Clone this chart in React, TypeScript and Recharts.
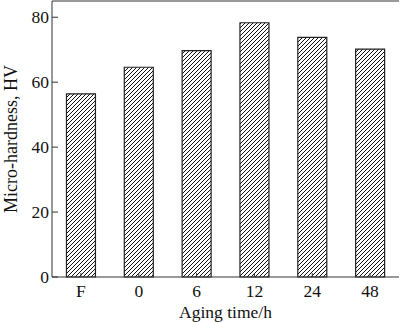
import React from 'react';
import { BarChart, Bar, XAxis, YAxis, ReferenceLine } from 'recharts';

const categories = ['F', '0', '6', '12', '24', '48'];
const hardness = [56.4, 64.6, 69.7, 78.3, 73.8, 70.2];
const yTicks = [0, 20, 40, 60, 80];
const yMax = 85;

const data = categories.map((c, i) => ({ name: c, hv: hardness[i] }));

const FONT = '"Liberation Serif", "DejaVu Serif", serif';
const INK = '#333';

const YTick = (props: any) => {
  const { x, y, payload } = props;
  return (
    <g>
      <line x1={x + 2} y1={y} x2={x + 8} y2={y} stroke={INK} strokeWidth={1} />
      <text x={x - 1} y={y} dy={6} textAnchor="end" fontFamily={FONT} fontSize={17.5} fill="#111">
        {payload.value}
      </text>
    </g>
  );
};

const XTick = (props: any) => {
  const { x, y, payload } = props;
  return (
    <g>
      <line x1={x} y1={y - 8} x2={x} y2={y - 12} stroke={INK} strokeWidth={1} />
      <text x={x} y={y} dy={12} textAnchor="middle" fontFamily={FONT} fontSize={17.5} fill="#111">
        {payload.value}
      </text>
    </g>
  );
};

export default function App() {
  return (
    <div style={{ position: 'absolute', left: 0, top: 0, background: '#fff' }}>
      <BarChart
        width={400}
        height={322}
        data={data}
        margin={{ top: 1, right: 1, left: 0, bottom: 0 }}
        barCategoryGap="25%"
      >
        <defs>
          <pattern id="hatch" patternUnits="userSpaceOnUse" width="4" height="4">
            <path d="M-1,1 l2,-2 M0,4 l4,-4 M3,5 l2,-2" stroke="#111" strokeWidth={1} />
          </pattern>
        </defs>
        <XAxis
          dataKey="name"
          height={45}
          tickLine={false}
          tickSize={0}
          tickMargin={8}
          axisLine={{ stroke: INK }}
          tick={<XTick />}
          interval={0}
          label={{
            value: 'Aging time/h',
            position: 'insideBottom',
            offset: 4,
            style: { fontFamily: FONT, fontSize: 17.5, fill: '#111' },
          }}
        />
        <YAxis
          domain={[0, yMax]}
          ticks={yTicks}
          width={52}
          tickLine={false}
          tickSize={0}
          tickMargin={2}
          axisLine={{ stroke: INK }}
          tick={<YTick />}
          label={{
            value: 'Micro-hardness, HV',
            angle: -90,
            position: 'insideLeft',
            offset: 11,
            style: { textAnchor: 'middle', fontFamily: FONT, fontSize: 18, fill: '#111' },
          }}
        />
        <YAxis
          yAxisId="right"
          orientation="right"
          domain={[0, yMax]}
          width={0}
          tick={false}
          tickLine={false}
          axisLine={{ stroke: INK }}
        />
        <ReferenceLine y={yMax} stroke={INK} strokeWidth={1} />
        <Bar dataKey="hv" fill="url(#hatch)" stroke="#222" strokeWidth={1.2} isAnimationActive={false} />
      </BarChart>
    </div>
  );
}
